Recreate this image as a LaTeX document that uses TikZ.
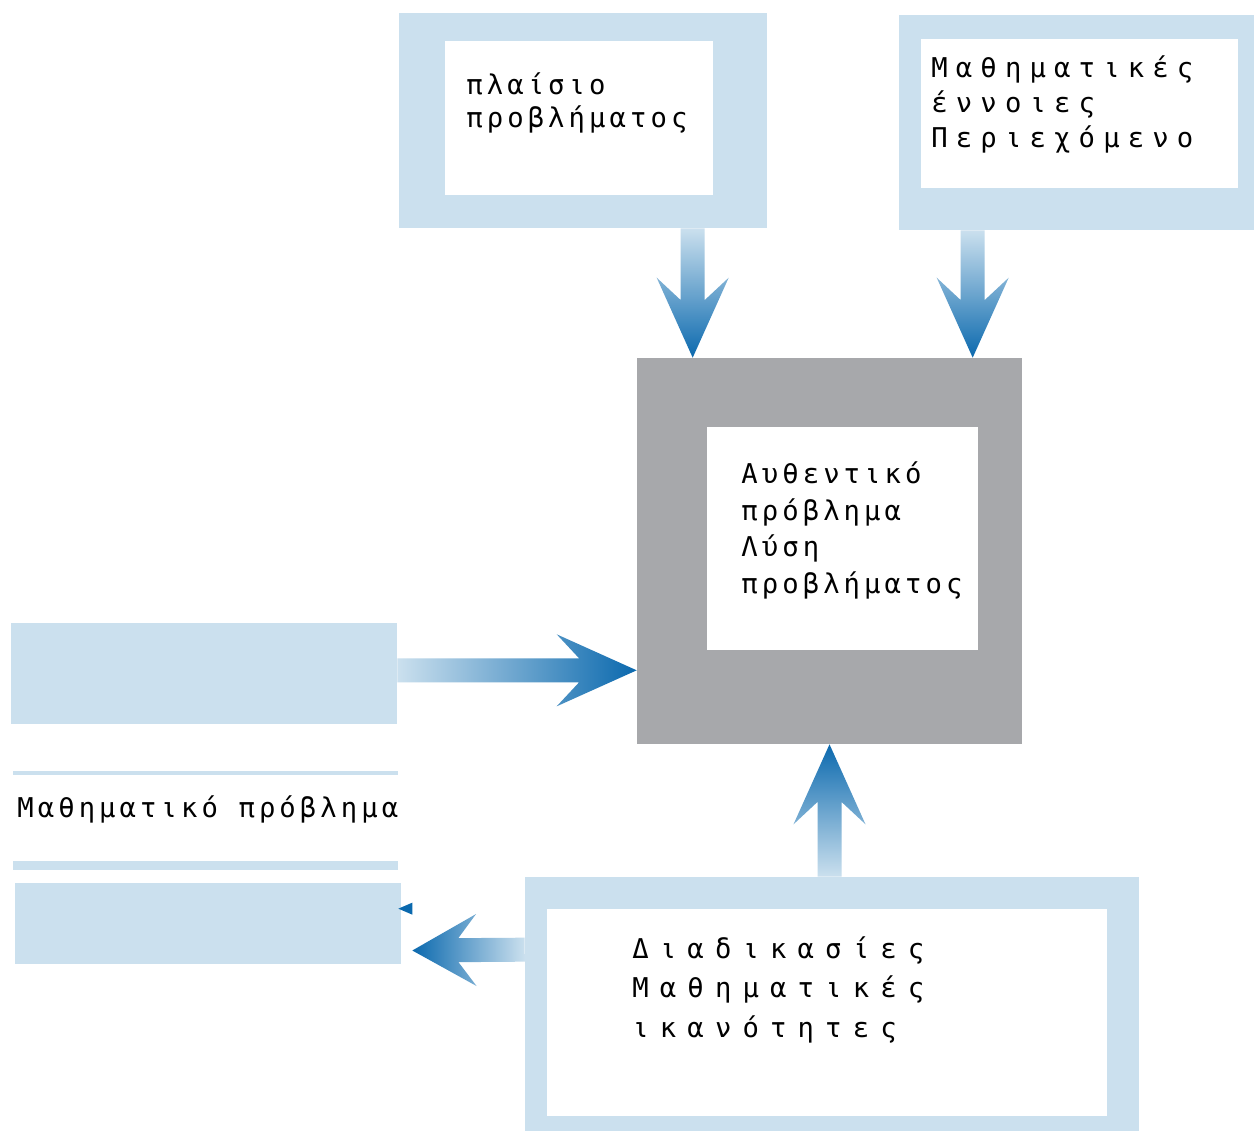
\documentclass[tikz,border=0pt]{standalone}
\usepackage{fontspec}
\newfontfamily\monogr{DejaVu Sans Mono}[LetterSpace=15]
\usetikzlibrary{calc,positioning}

\definecolor{paleblue}{HTML}{CBE0EE}
\definecolor{deepblue}{HTML}{0B69AE}
\definecolor{boxgray}{HTML}{A7A8AB}

% broad arrow: [head length]{shading}{tail}{tip}
\newcommand\fatarrow[4][1.6cm]{%
  \coordinate (fa-w) at ($(#4)!#1!(#3)$);
  \coordinate (fa-n) at ($(#4)!0.72*#1!(#3)$);
  \shade[#2] ($(#3)!0.24cm!90:(#4)$) -- ($(fa-n)!0.24cm!90:(#4)$)
    -- ($(fa-w)!0.72cm!90:(#4)$) -- (#4) -- ($(fa-w)!0.72cm!-90:(#4)$)
    -- ($(fa-n)!0.24cm!-90:(#4)$) -- ($(#3)!0.24cm!-90:(#4)$) -- cycle;
}

\begin{document}
\begin{tikzpicture}[x=0.02cm, y=-0.02cm,
frame/.style={fill=paleblue, inner sep=0pt},
hole/.style={fill=white, inner sep=0pt},
txt/.style={font=\monogr\fontsize{15.5}{20.7}\selectfont, align=left, inner sep=0pt, anchor=base west},
fadedown/.style={top color=paleblue, bottom color=deepblue},
fadeup/.style={bottom color=paleblue, top color=deepblue},
faderight/.style={left color=paleblue, right color=deepblue},
fadeleft/.style={right color=paleblue, left color=deepblue},
]
\fill[white] (0,0) rectangle (1254,1131);
\useasboundingbox (0,0) rectangle (1254,1131);

% upper boxes (text nodes sit on their last baseline)
\node[frame, minimum width=7.36cm, minimum height=4.3cm] (ctxf) at (583,120.5) {};
\node[hole, minimum width=5.36cm, minimum height=3.08cm] at (579,118) {};
\node[txt, font=\monogr\fontsize{15.5}{19}\selectfont] (ctx) at (466,128) {πλαίσιο\\προβλήματος};

\node[frame, minimum width=7.1cm, minimum height=4.3cm] (conf) at (1076.5,122.5) {};
\node[hole, minimum width=6.34cm, minimum height=2.98cm] at (1079.5,113.5) {};
\node[txt, font=\monogr\addfontfeature{LetterSpace=30}\fontsize{15.5}{20.2}\selectfont] (con) at (931,148) {Μαθηματικές\\έννοιες\\Περιεχόμενο};

% central problem
\node[fill=boxgray, inner sep=0pt, minimum width=7.7cm, minimum height=7.72cm] (auth) at (829.5,551) {};
\node[hole, minimum width=5.42cm, minimum height=4.46cm] at (842.5,538.5) {};
\node[txt] (authtxt) at (741,593) {Αυθεντικό\\πρόβλημα\\Λύση\\προβλήματος};

% left column
\node[frame, minimum width=7.72cm, minimum height=2.02cm] (inA) at (204,673.5) {};
\node[frame, minimum width=7.7cm, minimum height=0.08cm] (rulea) at (205.5,773) {};
\node[txt] (mp) at (17,817) {Μαθηματικό πρόβλημα};
\node[frame, minimum width=7.7cm, minimum height=0.18cm] (ruleb) at (205.5,865.5) {};
\node[frame, minimum width=7.72cm, minimum height=1.62cm] (inB) at (208,923.5) {};

% lower box
\node[frame, minimum width=12.28cm, minimum height=5.08cm] (procf) at (832,1004) {};
\node[hole, minimum width=11.2cm, minimum height=4.14cm] at (827,1012.5) {};
\node[txt, font=\monogr\addfontfeature{LetterSpace=41}\fontsize{15.5}{22.4}\selectfont] (proc) at (632,1037) {Διαδικασίες\\Μαθηματικές\\ικανότητες};

% arrows
\coordinate (a1) at ($(ctxf.south west)+(294,0)$);
\coordinate (a1t) at (a1 |- auth.north);
\coordinate (b1) at ($(conf.south west)+(74,0)$);
\coordinate (b1t) at (b1 |- auth.north);
\coordinate (c1t) at ($(auth.south west)+(0,-74)$);
\coordinate (c1) at (c1t -| inA.east);
\coordinate (d1) at (auth.south |- procf.north);
\coordinate (e1) at ($(procf.north west)+(0,73)$);
\coordinate (e1t) at ($(inB.east)+(11,27)$);
\fatarrow{fadedown}{a1}{a1t}
\fatarrow{fadedown}{b1}{b1t}
\fatarrow{faderight}{c1}{c1t}
\fatarrow{fadeup}{d1}{auth.south}
\fatarrow[1.28cm]{fadeleft}{e1}{e1t}
\fill[deepblue] ($(inB.north east)+(-3,26)$) -- ++(14,-6) -- ++(0,12) -- cycle;
\end{tikzpicture}
\end{document}
